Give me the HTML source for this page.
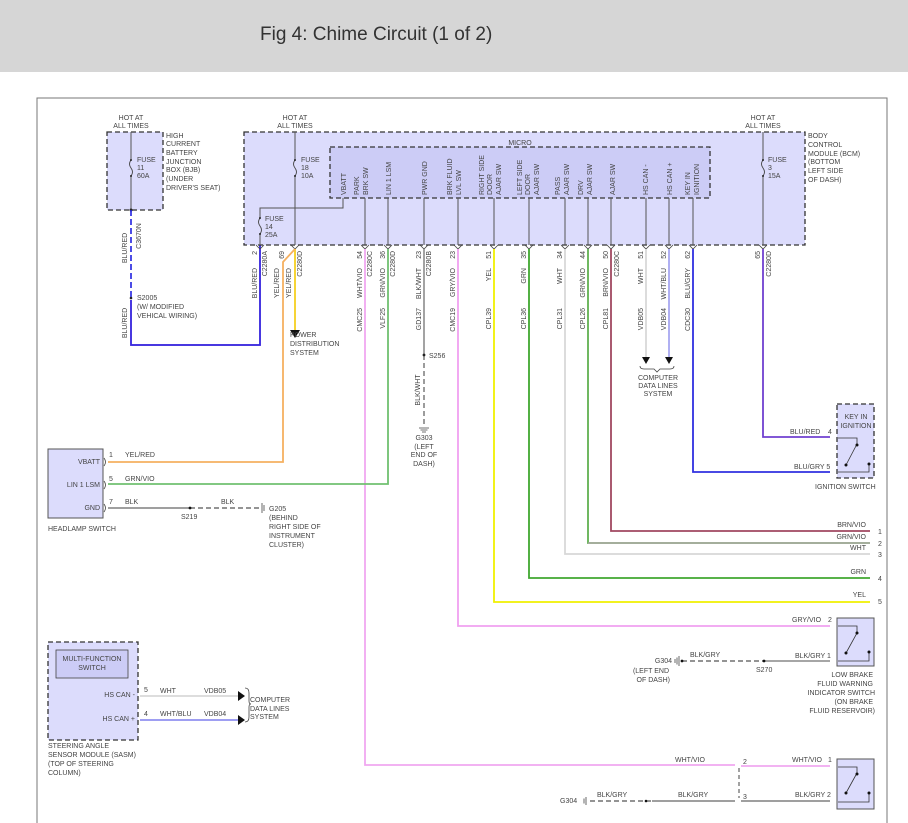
<!DOCTYPE html>
<html><head><meta charset="utf-8"><style>
html,body{margin:0;padding:0;background:#fff;width:908px;height:823px;overflow:hidden}
svg{display:block}
text{font-family:"Liberation Sans",sans-serif;font-size:7px;fill:#444}
.t{font-size:19px;fill:#333}
</style></head><body>
<svg width="908" height="823" viewBox="0 0 908 823" xmlns="http://www.w3.org/2000/svg">
<rect x="0" y="0" width="908" height="72" fill="#d6d6d6"/>
<text class="t" x="260" y="40">Fig 4: Chime Circuit (1 of 2)</text>
<path d="M37 823V98H887V823" fill="none" stroke="#777" stroke-width="1"/>

<!-- BJB -->
<text x="131" y="120" text-anchor="middle">HOT AT</text>
<text x="131" y="128" text-anchor="middle">ALL TIMES</text>
<rect x="107" y="132" width="56" height="78" fill="#dcdcfc" stroke="#333" stroke-width="1.3" stroke-dasharray="5,3"/>
<line x1="131" y1="132" x2="131" y2="210" stroke="#555" stroke-width="1"/>
<text x="137" y="162">FUSE</text><text x="137" y="170">11</text><text x="137" y="178">60A</text>
<text x="166" y="138">HIGH</text><text x="166" y="146">CURRENT</text><text x="166" y="155">BATTERY</text><text x="166" y="164">JUNCTION</text><text x="166" y="172">BOX (BJB)</text><text x="166" y="181">(UNDER</text><text x="166" y="190">DRIVER'S SEAT)</text>
<circle cx="131" cy="210" r="1.5" fill="#222"/>
<line x1="131" y1="210" x2="131" y2="300" stroke="#2020e0" stroke-width="1.6" stroke-dasharray="6,3"/>
<text transform="translate(141,236) rotate(-90)" text-anchor="middle">C3670N</text>
<text transform="translate(127,248) rotate(-90)" text-anchor="middle">BLU/RED</text>
<circle cx="131" cy="298" r="1.3" fill="#222"/>
<text x="137" y="300">S2005</text><text x="137" y="309">(W/ MODIFIED</text><text x="137" y="318">VEHICAL WIRING)</text>
<text transform="translate(127,323) rotate(-90)" text-anchor="middle">BLU/RED</text>
<path d="M131 300V345H260V245" fill="none" stroke="#7050e0" stroke-width="2"/>
<path d="M131 300V345H260V245" fill="none" stroke="#2020e0" stroke-width="1"/>

<!-- BCM -->
<text x="295" y="120" text-anchor="middle">HOT AT</text>
<text x="295" y="128" text-anchor="middle">ALL TIMES</text>
<text x="763" y="120" text-anchor="middle">HOT AT</text>
<text x="763" y="128" text-anchor="middle">ALL TIMES</text>
<rect x="244" y="132" width="561" height="113" fill="#dcdcfc" stroke="#333" stroke-width="1.3" stroke-dasharray="5,3"/>
<rect x="330" y="147" width="380" height="51" fill="#ccccf6" stroke="#333" stroke-width="1.3" stroke-dasharray="5,3"/>
<text x="520" y="145" text-anchor="middle">MICRO</text>
<text x="808" y="138">BODY</text><text x="808" y="147">CONTROL</text><text x="808" y="156">MODULE (BCM)</text><text x="808" y="164">(BOTTOM</text><text x="808" y="173">LEFT SIDE</text><text x="808" y="182">OF DASH)</text>
<g stroke="#555" stroke-width="1" fill="none">
<line x1="295" y1="132" x2="295" y2="245"/>
<line x1="763" y1="132" x2="763" y2="245"/>
<path d="M343 198V208H260V245"/>
<line x1="365" y1="198" x2="365" y2="245"/><line x1="388" y1="198" x2="388" y2="245"/>
<line x1="424" y1="198" x2="424" y2="245"/><line x1="458" y1="198" x2="458" y2="245"/>
<line x1="494" y1="198" x2="494" y2="245"/><line x1="529" y1="198" x2="529" y2="245"/>
<line x1="565" y1="198" x2="565" y2="245"/><line x1="588" y1="198" x2="588" y2="245"/>
<line x1="611" y1="198" x2="611" y2="245"/><line x1="646" y1="198" x2="646" y2="245"/>
<line x1="669" y1="198" x2="669" y2="245"/><line x1="693" y1="198" x2="693" y2="245"/>
</g>
<!-- fuse squiggles -->
<g fill="#dcdcfc" stroke="#444" stroke-width="0.9">
<rect x="128" y="160" width="6" height="16" stroke="none"/><path d="M131 160q-3 4 0 8q3 4 0 8" fill="none"/>
<rect x="292" y="160" width="6" height="16" stroke="none"/><path d="M295 160q-3 4 0 8q3 4 0 8" fill="none"/>
<rect x="257" y="218" width="6" height="16" stroke="none"/><path d="M260 218q-3 4 0 8q3 4 0 8" fill="none"/>
<rect x="760" y="160" width="6" height="16" stroke="none"/><path d="M763 160q-3 4 0 8q3 4 0 8" fill="none"/>
</g>
<g fill="#222"><circle cx="131" cy="160" r="1"/><circle cx="131" cy="176" r="1"/><circle cx="295" cy="160" r="1"/><circle cx="295" cy="176" r="1"/><circle cx="260" cy="218" r="1"/><circle cx="260" cy="234" r="1"/><circle cx="763" cy="160" r="1"/><circle cx="763" cy="176" r="1"/></g>
<text x="301" y="162">FUSE</text><text x="301" y="170">18</text><text x="301" y="178">10A</text>
<text x="265" y="221">FUSE</text><text x="265" y="229">14</text><text x="265" y="237">25A</text>
<text x="768" y="162">FUSE</text><text x="768" y="170">3</text><text x="768" y="178">15A</text>
<!-- micro labels -->
<g>
<text transform="translate(346,195) rotate(-90)">VBATT</text>
<text transform="translate(359,195) rotate(-90)">PARK</text><text transform="translate(368,195) rotate(-90)">BRK SW</text>
<text transform="translate(391,195) rotate(-90)">LIN 1 LSM</text>
<text transform="translate(427,195) rotate(-90)">PWR GND</text>
<text transform="translate(452,195) rotate(-90)">BRK FLUID</text><text transform="translate(461,195) rotate(-90)">LVL SW</text>
<text transform="translate(484,195) rotate(-90)">RIGHT SIDE</text><text transform="translate(492,195) rotate(-90)">DOOR</text><text transform="translate(501,195) rotate(-90)">AJAR SW</text>
<text transform="translate(522,195) rotate(-90)">LEFT SIDE</text><text transform="translate(530,195) rotate(-90)">DOOR</text><text transform="translate(539,195) rotate(-90)">AJAR SW</text>
<text transform="translate(560,195) rotate(-90)">PASS</text><text transform="translate(569,195) rotate(-90)">AJAR SW</text>
<text transform="translate(583,195) rotate(-90)">DRV</text><text transform="translate(592,195) rotate(-90)">AJAR SW</text>
<text transform="translate(615,195) rotate(-90)">AJAR SW</text>
<text transform="translate(648,195) rotate(-90)">HS CAN -</text>
<text transform="translate(672,195) rotate(-90)">HS CAN +</text>
<text transform="translate(690,195) rotate(-90)">KEY IN</text><text transform="translate(699,195) rotate(-90)">IGNITION</text>
</g>
<g fill="none" stroke="#444" stroke-width="0.8">
<path d="M256 245l4 4 4-4M291 245l4 4 4-4M361 245l4 4 4-4M384 245l4 4 4-4M420 245l4 4 4-4M454 245l4 4 4-4M490 245l4 4 4-4M525 245l4 4 4-4M561 245l4 4 4-4M584 245l4 4 4-4M607 245l4 4 4-4M642 245l4 4 4-4M665 245l4 4 4-4M689 245l4 4 4-4M759 245l4 4 4-4"/>
</g>
<g fill="none" stroke-width="1.8">
<path d="M295 249V330" stroke="#f5d020"/>
<path d="M295 249L283 262V462H108" stroke="#f5b060"/>
<path d="M365 249V765H735" stroke="#f0a8f0"/>
<path d="M388 249V484H108" stroke="#70c070"/>
<path d="M458 249V626H830" stroke="#f0a0f0"/>
<path d="M494 249V602H870" stroke="#f0f000"/>
<path d="M529 249V578H870" stroke="#40a830"/>
<path d="M565 249V554H870" stroke="#d8d8d8"/>
<path d="M588 249V543H870" stroke="#60b050"/>
<path d="M611 249V531H870" stroke="#a04860"/>
<path d="M646 249V357" stroke="#d8d8d8"/>
<path d="M669 249V357" stroke="#a8a8f0"/>
<path d="M693 249V472H830" stroke="#3030e0"/>
<path d="M763 249V437H830" stroke="#7040d0"/>
</g>
<path d="M588 543H870" stroke="#e090e0" stroke-width="0.8"/>
<path d="M424 249V355" stroke="#999" stroke-width="1.8"/>
<path d="M424 355V425" stroke="#666" stroke-width="1.3" stroke-dasharray="5,3"/>
<circle cx="424" cy="355" r="1.4" fill="#222"/>
<text x="429" y="358">S256</text>
<text transform="translate(420,390) rotate(-90)" text-anchor="middle">BLK/WHT</text>
<path d="M419 428h10M420.5 430h7M422 432h4" stroke="#444" stroke-width="0.8"/>
<text x="424" y="440" text-anchor="middle">G303</text><text x="424" y="449" text-anchor="middle">(LEFT</text><text x="424" y="457" text-anchor="middle">END OF</text><text x="424" y="466" text-anchor="middle">DASH)</text>
<path d="M290 330h10l-5 8z" fill="#111"/>
<text x="290" y="337">POWER</text><text x="290" y="346">DISTRIBUTION</text><text x="290" y="355">SYSTEM</text>
<path d="M642 357h8l-4 7zM665 357h8l-4 7z" fill="#111"/>
<path d="M640 366q0 3 4 3h10l3 3 3-3h10q4 0 4-3" fill="none" stroke="#444" stroke-width="0.8"/>
<text x="658" y="380" text-anchor="middle">COMPUTER</text><text x="658" y="388" text-anchor="middle">DATA LINES</text><text x="658" y="396" text-anchor="middle">SYSTEM</text>
<g>
<text transform="translate(257,251) rotate(-90)" text-anchor="end">2</text>
<text transform="translate(267,251) rotate(-90)" text-anchor="end">C2280A</text>
<text transform="translate(257,268) rotate(-90)" text-anchor="end">BLU/RED</text>
<text transform="translate(284,251) rotate(-90)" text-anchor="end">69</text>
<text transform="translate(302,251) rotate(-90)" text-anchor="end">C2280D</text>
<text transform="translate(279,268) rotate(-90)" text-anchor="end">YEL/RED</text>
<text transform="translate(291,268) rotate(-90)" text-anchor="end">YEL/RED</text>
<text transform="translate(362,251) rotate(-90)" text-anchor="end">54</text><text transform="translate(372,251) rotate(-90)" text-anchor="end">C2280C</text>
<text transform="translate(362,268) rotate(-90)" text-anchor="end">WHT/VIO</text><text transform="translate(362,308) rotate(-90)" text-anchor="end">CMC25</text>
<text transform="translate(385,251) rotate(-90)" text-anchor="end">36</text><text transform="translate(395,251) rotate(-90)" text-anchor="end">C2280D</text>
<text transform="translate(385,268) rotate(-90)" text-anchor="end">GRN/VIO</text><text transform="translate(385,308) rotate(-90)" text-anchor="end">VLF25</text>
<text transform="translate(421,251) rotate(-90)" text-anchor="end">23</text><text transform="translate(431,251) rotate(-90)" text-anchor="end">C2280B</text>
<text transform="translate(421,268) rotate(-90)" text-anchor="end">BLK/WHT</text><text transform="translate(421,308) rotate(-90)" text-anchor="end">GD137</text>
<text transform="translate(455,251) rotate(-90)" text-anchor="end">23</text>
<text transform="translate(455,268) rotate(-90)" text-anchor="end">GRY/VIO</text><text transform="translate(455,308) rotate(-90)" text-anchor="end">CMC19</text>
<text transform="translate(491,251) rotate(-90)" text-anchor="end">51</text>
<text transform="translate(491,268) rotate(-90)" text-anchor="end">YEL</text><text transform="translate(491,308) rotate(-90)" text-anchor="end">CPL39</text>
<text transform="translate(526,251) rotate(-90)" text-anchor="end">35</text>
<text transform="translate(526,268) rotate(-90)" text-anchor="end">GRN</text><text transform="translate(526,308) rotate(-90)" text-anchor="end">CPL36</text>
<text transform="translate(562,251) rotate(-90)" text-anchor="end">34</text>
<text transform="translate(562,268) rotate(-90)" text-anchor="end">WHT</text><text transform="translate(562,308) rotate(-90)" text-anchor="end">CPL31</text>
<text transform="translate(585,251) rotate(-90)" text-anchor="end">44</text>
<text transform="translate(585,268) rotate(-90)" text-anchor="end">GRN/VIO</text><text transform="translate(585,308) rotate(-90)" text-anchor="end">CPL26</text>
<text transform="translate(608,251) rotate(-90)" text-anchor="end">50</text><text transform="translate(619,251) rotate(-90)" text-anchor="end">C2280C</text>
<text transform="translate(608,268) rotate(-90)" text-anchor="end">BRN/VIO</text><text transform="translate(608,308) rotate(-90)" text-anchor="end">CPL81</text>
<text transform="translate(643,251) rotate(-90)" text-anchor="end">51</text>
<text transform="translate(643,268) rotate(-90)" text-anchor="end">WHT</text><text transform="translate(643,308) rotate(-90)" text-anchor="end">VDB05</text>
<text transform="translate(666,251) rotate(-90)" text-anchor="end">52</text>
<text transform="translate(666,268) rotate(-90)" text-anchor="end">WHT/BLU</text><text transform="translate(666,308) rotate(-90)" text-anchor="end">VDB04</text>
<text transform="translate(690,251) rotate(-90)" text-anchor="end">62</text>
<text transform="translate(690,268) rotate(-90)" text-anchor="end">BLU/GRY</text><text transform="translate(690,308) rotate(-90)" text-anchor="end">CDC30</text>
<text transform="translate(760,251) rotate(-90)" text-anchor="end">65</text><text transform="translate(771,251) rotate(-90)" text-anchor="end">C2280D</text>
</g>

<rect x="837" y="404" width="37" height="74" fill="#dcdcfc" stroke="#333" stroke-width="1.3" stroke-dasharray="5,3"/>
<text x="856" y="419" text-anchor="middle">KEY IN</text><text x="856" y="428" text-anchor="middle">IGNITION</text>
<path d="M838 438h19v6M846 465l11-21M838 472h31v-8" fill="none" stroke="#333" stroke-width="0.8"/>
<circle cx="857" cy="445" r="1.5" fill="#111"/><circle cx="846" cy="465" r="1.5" fill="#111"/><circle cx="869" cy="464" r="1.5" fill="#111"/>
<text x="790" y="434">BLU/RED</text><text x="828" y="434">4</text>
<text x="794" y="469">BLU/GRY 5</text>
<text x="815" y="489">IGNITION SWITCH</text>
<text x="866" y="527" text-anchor="end">BRN/VIO</text><text x="878" y="534">1</text>
<text x="866" y="539" text-anchor="end">GRN/VIO</text><text x="878" y="546">2</text>
<text x="866" y="550" text-anchor="end">WHT</text><text x="878" y="557">3</text>
<text x="866" y="574" text-anchor="end">GRN</text><text x="878" y="581">4</text>
<text x="866" y="597" text-anchor="end">YEL</text><text x="878" y="604">5</text>

<rect x="837" y="618" width="37" height="48" fill="#dcdcfc" stroke="#555" stroke-width="1"/>
<path d="M838 626h19v7M846 653l11-20M838 661h31v-8" fill="none" stroke="#333" stroke-width="0.8"/>
<circle cx="857" cy="633" r="1.5" fill="#111"/><circle cx="846" cy="653" r="1.5" fill="#111"/><circle cx="869" cy="652" r="1.5" fill="#111"/>
<text x="792" y="622">GRY/VIO</text><text x="828" y="622">2</text>
<text x="795" y="658">BLK/GRY 1</text>
<text x="873" y="677" text-anchor="end">LOW BRAKE</text><text x="873" y="686" text-anchor="end">FLUID WARNING</text><text x="875" y="695" text-anchor="end">INDICATOR SWITCH</text><text x="873" y="704" text-anchor="end">(ON BRAKE</text><text x="875" y="713" text-anchor="end">FLUID RESERVOIR)</text>
<path d="M764 661H830" stroke="#888" stroke-width="1.5"/>
<path d="M682 661H764" stroke="#555" stroke-width="1.3" stroke-dasharray="5,3"/>
<circle cx="764" cy="661" r="1.4" fill="#111"/><circle cx="682" cy="661" r="1.4" fill="#111"/>
<path d="M679 656v10M677 657.5v7M675 659v4" stroke="#444" stroke-width="0.8"/>
<text x="690" y="657">BLK/GRY</text><text x="756" y="672">S270</text>
<text x="672" y="663" text-anchor="end">G304</text><text x="669" y="673" text-anchor="end">(LEFT END</text><text x="670" y="682" text-anchor="end">OF DASH)</text>

<rect x="837" y="759" width="37" height="50" fill="#dcdcfc" stroke="#555" stroke-width="1"/>
<path d="M838 767h19v7M846 793l11-20M838 802h31v-8" fill="none" stroke="#333" stroke-width="0.8"/>
<circle cx="857" cy="774" r="1.5" fill="#111"/><circle cx="846" cy="793" r="1.5" fill="#111"/><circle cx="869" cy="793" r="1.5" fill="#111"/>
<path d="M741 766H830" stroke="#f0a8f0" stroke-width="1.8"/>
<path d="M739 768V798" stroke="#444" stroke-width="1" stroke-dasharray="4,3"/>
<text x="675" y="762">WHT/VIO</text><text x="743" y="764">2</text>
<text x="792" y="762">WHT/VIO</text><text x="828" y="762">1</text>
<path d="M652 801H735M741 801H830" stroke="#666" stroke-width="1.3"/>
<path d="M590 801H652" stroke="#555" stroke-width="1.3" stroke-dasharray="5,3"/>
<circle cx="646" cy="801" r="1.3" fill="#111"/>
<path d="M586 797v8M584 798.5v5" stroke="#444" stroke-width="0.8"/>
<text x="597" y="797">BLK/GRY</text><text x="678" y="797">BLK/GRY</text><text x="743" y="799">3</text><text x="795" y="797">BLK/GRY 2</text>
<text x="560" y="803">G304</text>

<rect x="48" y="449" width="55" height="69" fill="#dcdcfc" stroke="#555" stroke-width="1"/>
<text x="100" y="464" text-anchor="end">VBATT</text><text x="100" y="487" text-anchor="end">LIN 1 LSM</text><text x="100" y="510" text-anchor="end">GND</text>
<text x="48" y="531">HEADLAMP SWITCH</text>
<text x="109" y="457">1</text><text x="125" y="457">YEL/RED</text>
<text x="109" y="481">5</text><text x="125" y="481">GRN/VIO</text>
<text x="109" y="504">7</text><text x="125" y="504">BLK</text><text x="221" y="504">BLK</text>
<path d="M108 508H190" stroke="#666" stroke-width="1.3"/>
<path d="M190 508H260" stroke="#555" stroke-width="1.3" stroke-dasharray="5,3"/>
<circle cx="190" cy="508" r="1.4" fill="#111"/>
<path d="M262 503v10M264 505v6" stroke="#444" stroke-width="0.8"/>
<text x="181" y="519">S219</text>
<text x="269" y="511">G205</text><text x="269" y="520">(BEHIND</text><text x="269" y="529">RIGHT SIDE OF</text><text x="269" y="538">INSTRUMENT</text><text x="269" y="547">CLUSTER)</text>
<g fill="none" stroke="#444" stroke-width="0.8"><path d="M104 458q3 4 0 8M104 481q3 4 0 8M104 504q3 4 0 8"/></g>

<rect x="48" y="642" width="90" height="98" fill="#dcdcfc" stroke="#333" stroke-width="1.3" stroke-dasharray="5,3"/>
<rect x="56" y="650" width="72" height="28" fill="#ccccf6" stroke="#444" stroke-width="0.8"/>
<text x="92" y="661" text-anchor="middle">MULTI-FUNCTION</text><text x="92" y="670" text-anchor="middle">SWITCH</text>
<text x="135" y="697" text-anchor="end">HS CAN -</text><text x="135" y="721" text-anchor="end">HS CAN +</text>
<path d="M140 696H240" stroke="#d8d8d8" stroke-width="1.8"/>
<path d="M140 720H240" stroke="#9090f0" stroke-width="1.8"/>
<path d="M238 691v10l7-5zM238 715v10l7-5z" fill="#111"/>
<path d="M245 688q4 0 4 5v8q0 3 2 3q-2 0 -2 3v10q0 5 -4 5" fill="none" stroke="#444" stroke-width="0.8"/>
<text x="144" y="692">5</text><text x="160" y="693">WHT</text><text x="204" y="693">VDB05</text>
<text x="144" y="716">4</text><text x="160" y="716">WHT/BLU</text><text x="204" y="716">VDB04</text>
<text x="250" y="702">COMPUTER</text><text x="250" y="711">DATA LINES</text><text x="250" y="719">SYSTEM</text>
<text x="48" y="748">STEERING ANGLE</text><text x="48" y="757">SENSOR MODULE (SASM)</text><text x="48" y="766">(TOP OF STEERING</text><text x="48" y="775">COLUMN)</text>
</svg>
</body></html>
